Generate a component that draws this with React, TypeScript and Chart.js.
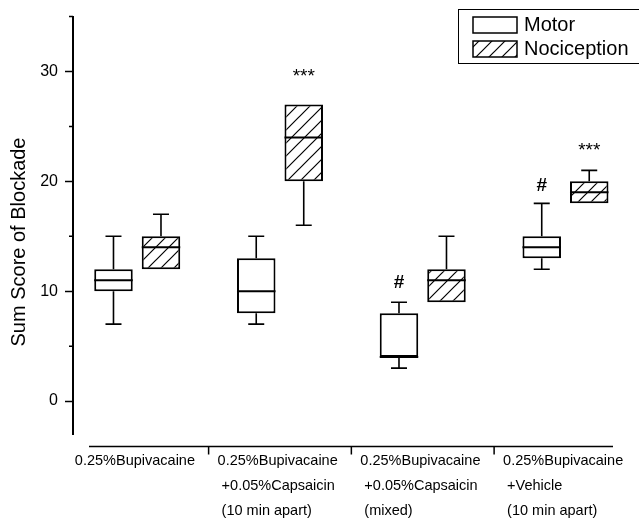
import React, { useEffect, useRef } from 'react';
import { Chart, registerables } from 'chart.js';

Chart.register(...registerables);

// ---------- data ----------
const groupLabels: string[][] = [
  ['0.25%Bupivacaine'],
  ['0.25%Bupivacaine', '+0.05%Capsaicin', '(10 min apart)'],
  ['0.25%Bupivacaine', '+0.05%Capsaicin', '(mixed)'],
  ['0.25%Bupivacaine', '+Vehicle', '(10 min apart)'],
];
const groupPositions = [1, 2, 3, 4];
const seriesNames = ['Motor', 'Nociception'];

const motorMin = [7, 7, 3, 12];
const motorQ1 = [10, 8, 4, 13];
const motorMedian = [11, 10, 4, 14];
const motorQ3 = [12, 13, 8, 15];
const motorMax = [15, 15, 9, 18];

const nociMin = [12, 16, 9, 18];
const nociQ1 = [12, 20, 9, 18];
const nociMedian = [14, 24, 11, 19];
const nociQ3 = [15, 27, 12, 20];
const nociMax = [17, 27, 15, 21];

const motorMarks = ['', '', '#', '#'];
const motorMarkAt = [0, 0, 10.6, 19.4];
const nociMarks = ['', '***', '', '***'];
const nociMarkAt = [0, 29.3, 0, 22.6];

const yTicks = [0, 5, 10, 15, 20, 25, 30, 35];
const yLabelEvery = 10;
const yAxisTitle = 'Sum Score of Blockade';

const FONT = '"Liberation Sans", Arial, sans-serif';

function makeHatch(): CanvasPattern | string {
  const c = document.createElement('canvas');
  const s = 13;
  c.width = s;
  c.height = s;
  const g = c.getContext('2d');
  if (!g) return '#fff';
  g.fillStyle = '#fff';
  g.fillRect(0, 0, s, s);
  g.strokeStyle = '#000';
  g.lineWidth = 1.2;
  g.beginPath();
  g.moveTo(-1, s + 1);
  g.lineTo(s + 1, -1);
  g.moveTo(-2, 2);
  g.lineTo(2, -2);
  g.moveTo(s - 2, s + 2);
  g.lineTo(s + 2, s - 2);
  g.stroke();
  return g.createPattern(c, 'repeat') || '#fff';
}

export default function App() {
  const ref = useRef<HTMLCanvasElement | null>(null);

  useEffect(() => {
    const canvas = ref.current;
    if (!canvas) return;
    Chart.defaults.font.family = FONT;
    Chart.defaults.color = '#000';
    const hatch = makeHatch();

    const series = [
      { min: motorMin, q1: motorQ1, med: motorMedian, q3: motorQ3, max: motorMax, marks: motorMarks, markAt: motorMarkAt, fill: '#fff' as any },
      { min: nociMin, q1: nociQ1, med: nociMedian, q3: nociQ3, max: nociMax, marks: nociMarks, markAt: nociMarkAt, fill: hatch as any },
    ];

    const extras = {
      id: 'extras',
      afterDatasetsDraw(chart: any) {
        const ctx: CanvasRenderingContext2D = chart.ctx;
        const ys = chart.scales.y;
        series.forEach((s, di) => {
          const meta = chart.getDatasetMeta(di);
          meta.data.forEach((el: any, i: number) => {
            const x = el.x;
            const w = el.width;
            const pMin = ys.getPixelForValue(s.min[i]);
            const pQ1 = ys.getPixelForValue(s.q1[i]);
            const pMed = ys.getPixelForValue(s.med[i]);
            const pQ3 = ys.getPixelForValue(s.q3[i]);
            const pMax = ys.getPixelForValue(s.max[i]);
            ctx.save();
            ctx.strokeStyle = '#000';
            ctx.lineWidth = 1.6;
            ctx.beginPath();
            if (s.max[i] > s.q3[i]) {
              ctx.moveTo(x, pQ3);
              ctx.lineTo(x, pMax);
              ctx.moveTo(x - 8, pMax);
              ctx.lineTo(x + 8, pMax);
            }
            if (s.min[i] < s.q1[i]) {
              ctx.moveTo(x, pQ1);
              ctx.lineTo(x, pMin);
              ctx.moveTo(x - 8, pMin);
              ctx.lineTo(x + 8, pMin);
            }
            ctx.stroke();
            ctx.lineWidth = 2;
            ctx.beginPath();
            ctx.moveTo(x - w / 2, pMed);
            ctx.lineTo(x + w / 2, pMed);
            ctx.stroke();
            const mark = s.marks[i];
            if (mark) {
              const py = ys.getPixelForValue(s.markAt[i]);
              ctx.fillStyle = '#000';
              ctx.textAlign = 'center';
              if (mark === '#') {
                ctx.font = `bold 19px ${FONT}`;
                ctx.textBaseline = 'middle';
                ctx.fillText(mark, x, py - 2);
              } else {
                ctx.font = `19px ${FONT}`;
                ctx.textBaseline = 'alphabetic';
                ctx.fillText(mark, x, py + 3);
              }
            }
            ctx.restore();
          });
        });
      },
      afterDraw(chart: any) {
        const ctx: CanvasRenderingContext2D = chart.ctx;
        const ys = chart.scales.y;
        const xs = chart.scales.x;
        const left = chart.chartArea.left;
        ctx.save();
        // minor y ticks
        ctx.strokeStyle = '#000';
        ctx.lineWidth = 1.5;
        ctx.beginPath();
        yTicks.forEach((v) => {
          if (v % yLabelEvery !== 0) {
            const py = ys.getPixelForValue(v);
            ctx.moveTo(left - 4, py);
            ctx.lineTo(left, py);
          }
        });
        ctx.stroke();

        // y title
        ctx.save();
        ctx.translate(19, 242);
        ctx.rotate(-Math.PI / 2);
        ctx.font = `20px ${FONT}`;
        ctx.fillStyle = '#000';
        ctx.textAlign = 'center';
        ctx.textBaseline = 'middle';
        ctx.fillText(yAxisTitle, 0, 0);
        ctx.restore();

        // legend
        ctx.lineWidth = 1;
        ctx.strokeStyle = '#000';
        ctx.strokeRect(458.5, 9.5, 200, 54);
        series.forEach((s, i) => {
          const top = 17 + i * 24;
          ctx.fillStyle = s.fill;
          ctx.fillRect(473, top, 44, 16);
          ctx.lineWidth = 1.5;
          ctx.strokeRect(473, top, 44, 16);
          ctx.fillStyle = '#000';
          ctx.font = `20px ${FONT}`;
          ctx.textAlign = 'left';
          ctx.textBaseline = 'middle';
          ctx.fillText(seriesNames[i], 524, top + 8.5);
        });

        // bottom category table
        const lineY = 446.5;
        ctx.lineWidth = 1.5;
        ctx.beginPath();
        ctx.moveTo(xs.getPixelForValue(0.662), lineY);
        ctx.lineTo(xs.getPixelForValue(4.333), lineY);
        groupPositions.forEach((p, i) => {
          if (i < groupPositions.length - 1) {
            const px = xs.getPixelForValue(p + 0.5);
            ctx.moveTo(px, lineY);
            ctx.lineTo(px, lineY + 8);
          }
        });
        ctx.stroke();
        ctx.font = `14.5px ${FONT}`;
        ctx.fillStyle = '#000';
        ctx.textAlign = 'left';
        ctx.textBaseline = 'middle';
        groupLabels.forEach((lines, gi) => {
          const bx = xs.getPixelForValue(groupPositions[gi] - 0.5);
          lines.forEach((t, j) => {
            ctx.fillText(t, bx + (j === 0 ? 9 : 13), 461 + j * 25);
          });
        });
        ctx.restore();
      },
    };

    const chart = new Chart(canvas, {
      type: 'bar',
      data: {
        datasets: series.map((s, di) => ({
          label: seriesNames[di],
          data: groupPositions.map((x, i) => ({ x, y: [s.q1[i], s.q3[i]] })) as any,
          backgroundColor: s.fill,
          borderColor: '#000',
          borderWidth: 2,
          borderSkipped: false,
          categoryPercentage: 0.6655,
          barPercentage: 0.8105,
        })),
      },
      options: {
        animation: false,
        responsive: false,
        layout: { padding: { top: 10, bottom: 86, left: 0, right: 0 } },
        plugins: {
          legend: { display: false },
          tooltip: { enabled: false },
        },
        scales: {
          x: {
            type: 'linear',
            min: 0.55,
            max: 4.515,
            offset: false,
            display: false,
            grid: { offset: false },
            afterBuildTicks: (s: any) => {
              s.ticks = groupPositions.map((v) => ({ value: v }));
            },
          },
          y: {
            type: 'linear',
            min: -3,
            max: 35,
            afterBuildTicks: (s: any) => {
              s.ticks = yTicks.map((v) => ({ value: v }));
            },
            afterFit: (s: any) => {
              s.width = 73;
            },
            ticks: {
              font: { size: 16 },
              color: '#000',
              padding: 7,
              callback: (v: any) => (Number(v) % yLabelEvery === 0 ? String(v) : ''),
            },
            grid: {
              drawOnChartArea: false,
              drawTicks: true,
              tickLength: 8,
              tickWidth: 1.5,
              tickColor: (c: any) => (c.tick && c.tick.value % yLabelEvery === 0 ? '#000' : 'rgba(0,0,0,0)'),
            },
            border: { color: '#000', width: 2 },
          },
        },
      } as any,
      plugins: [extras],
    });

    return () => chart.destroy();
  }, []);

  return (
    <div style={{ position: 'fixed', left: 0, top: 0, width: 639, height: 520, background: '#fff' }}>
      <canvas ref={ref} width={639} height={520} style={{ display: 'block', width: 639, height: 520 }} />
    </div>
  );
}
